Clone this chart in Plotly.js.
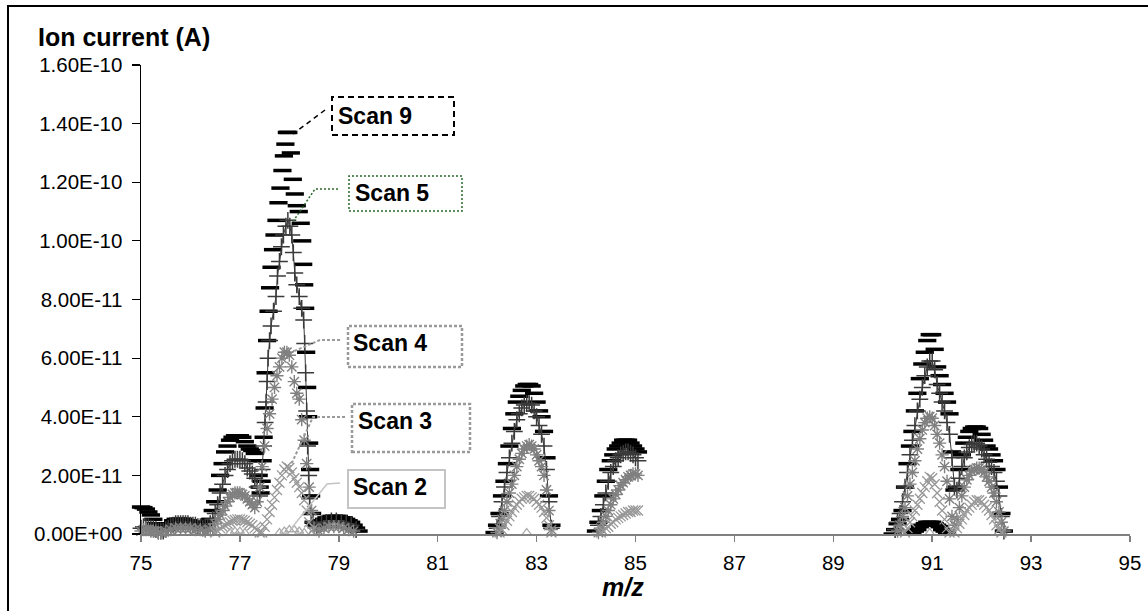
<!DOCTYPE html>
<html><head><meta charset="utf-8">
<script src="https://cdn.plot.ly/plotly-3.0.1.min.js"></script>
<style>
html,body{margin:0;padding:0;background:#fff;overflow:hidden;width:1148px;height:611px}
#wrap{position:relative;width:1148px;height:611px;overflow:hidden}
#chart{position:absolute;left:0;top:0;width:1148px;height:611px}
#frame{position:absolute;left:7px;top:5px;width:1400px;height:800px;border-top:2px solid #000;border-left:2px solid #000;pointer-events:none}
#mask{position:absolute;left:1142px;top:8px;width:6px;height:603px;background:#fff;z-index:10}
</style>
</head><body><div id="wrap"><div id="chart"></div><div id="frame"></div><div id="mask"></div></div>
<script>
// ---------------- data (m/z, ion current in units of 1e-12 A) ----------------
const xTickVals = [75,77,79,81,83,85,87,89,91,93,95];
const yTickVals = [0,2e-11,4e-11,6e-11,8e-11,1e-10,1.2e-10,1.4e-10,1.6e-10];
const yTickText = ["0.00E+00","2.00E-11","4.00E-11","6.00E-11","8.00E-11","1.00E-10","1.20E-10","1.40E-10","1.60E-10"];

const scan9 = [
[75.00,9.2],[75.05,9],[75.10,8.5],[75.15,7.5],[75.20,6.5],[75.25,5],[75.30,3.5],[75.35,2.5],[75.40,2],[75.45,1.5],[75.50,1.5],[75.55,2.5],[75.60,3.5],[75.65,4.5],[75.70,5],[75.75,5],[75.80,5],[75.85,5],[75.90,4.5],[75.95,4.5],[76.00,4],[76.05,4],[76.10,3.5],[76.15,3],[76.20,3],[76.25,2.5],[76.30,3],[76.35,4],
[76.40,5],[76.45,8],[76.50,11],[76.55,15],[76.60,20],[76.65,24],[76.70,28],[76.75,30],[76.80,32],[76.85,33],[76.90,33.5],[76.95,33.5],[77.00,33.5],[77.05,33],[77.10,31.5],[77.15,30],[77.20,29],[77.25,28.5],[77.30,27.5],[77.35,25],
[77.38,20],[77.40,16],[77.42,14],[77.44,18],[77.46,25],[77.48,33],[77.50,43],[77.52,55],[77.55,66],[77.58,76],[77.61,84],[77.64,91],[77.67,97],[77.70,102],[77.74,107],[77.78,113],[77.82,118],[77.86,124],[77.89,129],[77.92,133],[77.95,137],[77.98,137],
[78.03,130],[78.07,121],[78.11,116],[78.15,112],[78.19,110],[78.23,106],[78.26,100],[78.28,92],[78.30,85],[78.32,77],[78.34,62],[78.36,50],[78.38,40],[78.40,31],[78.42,22],[78.44,13],[78.46,7],[78.49,4],
[78.55,3],[78.60,4],[78.65,4.5],[78.70,5],[78.75,5.5],[78.80,5.5],[78.85,6],[78.90,6],[78.95,6],[79.00,6],[79.05,5.5],[79.10,5.5],[79.15,5],[79.20,4.5],[79.25,4],[79.30,3],[79.35,2],[79.40,1],
[82.15,0.5],[82.20,3],[82.25,7],[82.30,13],[82.35,18],[82.40,24],[82.45,30],[82.50,36],[82.55,41],[82.60,45],[82.65,47],[82.70,49],[82.75,50.5],[82.80,51],[82.85,51],[82.90,50.5],[82.95,48],[83.00,45],[83.05,42],[83.10,40],[83.15,35],[83.20,26],[83.25,13],[83.30,3],
[84.20,1],[84.25,4],[84.30,8],[84.35,13],[84.40,18],[84.45,22],[84.50,25],[84.55,27],[84.60,29],[84.65,30],[84.70,31],[84.75,32],[84.80,32],[84.85,32],[84.90,31],[84.95,30],[85.00,29],[85.05,28],
[90.20,0],[90.25,1.5],[90.30,3.5],[90.35,5],[90.40,8],[90.45,16],[90.50,24],[90.55,30],[90.60,35],[90.65,42],[90.70,48],[90.75,53],[90.80,58],[90.85,62],[90.90,66],[90.95,68],[91.00,68],[91.05,63],[91.10,57],[91.15,54],[91.20,51],[91.25,48],[91.30,45],[91.35,41],[91.40,28],[91.45,15],
[91.50,16],[91.55,22],[91.60,27],[91.65,31],[91.70,33],[91.75,35],[91.80,36],[91.85,36.5],[91.90,36.5],[91.95,36],[92.00,34],[92.05,32],[92.10,30],[92.15,29],[92.20,27],[92.25,25],[92.30,22],[92.35,16],[92.40,7],[92.45,1]
];

const scan5 = [
[75.00,2],[75.05,2.5],[75.10,2.5],[75.15,2.5],[75.20,2],[75.25,2],[75.30,1.5],[75.35,1],[75.40,1],[75.45,1],[75.50,1.5],[75.55,2],[75.60,2.5],[75.65,3],[75.70,3.5],[75.75,3.5],[75.80,3.5],[75.85,3.5],[75.90,3.5],[75.95,3.5],[76.00,3],[76.05,3],[76.10,3],[76.15,2.5],[76.20,2.5],[76.25,2],[76.30,2],[76.35,2.5],[76.40,3.5],
[76.45,5],[76.50,7],[76.55,10],[76.60,14],[76.65,17],[76.70,20],[76.75,22],[76.80,24],[76.85,25],[76.90,25.5],[76.95,25.5],[77.00,25.5],[77.05,25],[77.10,24],[77.15,22.5],[77.20,21.5],[77.25,20.5],[77.30,19],[77.35,16],[77.40,13],
[77.45,22],[77.48,30],[77.51,38],[77.53,45],[77.55,52],[77.57,60],[77.60,66],[77.63,71],[77.68,76],[77.73,81],[77.76,88],[77.80,93],[77.84,98],[77.88,102],[77.93,105],[77.97,107],[78.01,105],[78.05,102],[78.08,96],[78.11,89],[78.15,85],[78.20,81],[78.25,77],[78.29,73],[78.31,65],[78.33,55],[78.35,42],[78.37,30],[78.39,20],[78.41,12],[78.44,7],[78.48,4],
[78.55,2.5],[78.65,3.5],[78.75,4],[78.85,4.5],[78.95,4.5],[79.05,4],[79.15,3.5],[79.25,3],[79.35,1.5],[79.45,null],
[82.20,2],[82.25,6],[82.30,11],[82.35,16],[82.40,21],[82.45,26],[82.50,31],[82.55,35],[82.60,39],[82.65,41],[82.70,43],[82.75,44],[82.80,44.5],[82.85,44.5],[82.90,44],[82.95,42],[83.00,40],[83.05,37],[83.10,34],[83.15,30],[83.20,22],[83.25,11],[83.30,2],[83.35,null],
[84.25,3],[84.30,6],[84.35,10],[84.40,14],[84.45,18],[84.50,21],[84.55,23],[84.60,25],[84.65,26],[84.70,27],[84.75,27.5],[84.80,28],[84.85,28],[84.90,27.5],[84.95,27],[85.00,26],[85.05,25],[85.10,null],
[90.25,1.5],[90.30,4],[90.35,7],[90.40,11],[90.45,16],[90.50,21],[90.55,27],[90.60,32],[90.65,37],[90.70,42],[90.75,46],[90.80,50],[90.85,54],[90.90,57],[90.95,59],[91.00,59],[91.05,56],[91.10,51],[91.15,48],[91.20,45],[91.25,42],[91.30,38],[91.35,34],[91.40,26],[91.45,16],
[91.50,15],[91.55,19],[91.60,23],[91.65,26],[91.70,28],[91.75,29.5],[91.80,30.5],[91.85,31],[91.90,31],[91.95,30],[92.00,29],[92.05,27],[92.10,25.5],[92.15,24.5],[92.20,23],[92.25,21],[92.30,18],[92.35,13],[92.40,6],[92.45,1]
];

const scan4 = [
[75.00,1],[75.05,1.5],[75.10,1.5],[75.15,1.5],[75.20,1],[75.25,1],[75.30,1],[75.35,0.5],[75.40,0.5],[75.50,1],[75.60,1.5],[75.70,2],[75.80,2],[75.90,2],[76.00,2],[76.10,1.5],[76.20,1.5],[76.30,1],[76.40,1.5],
[76.45,2],[76.50,3.5],[76.55,5],[76.60,6.5],[76.65,8],[76.70,9.5],[76.75,11],[76.80,12.5],[76.85,13.5],[76.90,14],[76.95,14],[77.00,14],[77.05,13.5],[77.10,13],[77.15,12],[77.20,11],[77.25,10],[77.30,9],[77.35,11],
[77.40,16],[77.45,23],[77.50,30],[77.55,36],[77.60,41],[77.65,46],[77.70,50],[77.75,54],[77.80,57],[77.85,60],[77.90,62],[77.95,62],[78.00,61],[78.05,57],[78.10,52],[78.15,48],[78.20,46],[78.25,39],[78.30,32],[78.35,24],[78.40,16],[78.45,8],[78.50,2],
[78.60,1],[78.70,2],[78.80,2.5],[78.90,2.5],[79.00,2.5],[79.10,2],[79.20,1.5],[79.30,1],
[82.20,0.5],[82.25,2],[82.30,5],[82.35,8],[82.40,11],[82.45,14],[82.50,17],[82.55,20],[82.60,23],[82.65,25.5],[82.70,27.5],[82.75,29],[82.80,30],[82.85,30.5],[82.90,30],[82.95,29],[83.00,27],[83.05,25],[83.10,23],[83.15,20],[83.20,15],[83.25,8],[83.30,1.5],
[84.25,0.5],[84.30,2],[84.35,4],[84.40,6],[84.45,8],[84.50,10],[84.55,12],[84.60,13.5],[84.65,15],[84.70,16.5],[84.75,17.5],[84.80,18.5],[84.85,19.5],[84.90,20],[84.95,20.5],[85.00,20.5],[85.05,20],
[90.30,1],[90.35,3],[90.40,6],[90.45,9],[90.50,13],[90.55,17],[90.60,21],[90.65,25],[90.70,29],[90.75,32.5],[90.80,35.5],[90.85,38],[90.90,39.5],[90.95,40],[91.00,39.5],[91.05,37],[91.10,34],[91.15,31],[91.20,27],[91.25,23],[91.30,18],[91.35,12],[91.40,6],[91.45,3],
[91.50,5],[91.55,9],[91.60,13],[91.65,16],[91.70,18.5],[91.75,20],[91.80,21.5],[91.85,22],[91.90,22.5],[91.95,22.5],[92.00,22],[92.05,21],[92.10,19.5],[92.15,18],[92.20,16],[92.25,14],[92.30,11],[92.35,7.5],[92.40,4],[92.45,1]
];

const scan3 = [
[76.50,0.5],[76.55,1],[76.60,2],[76.65,2.5],[76.70,3],[76.75,3.5],[76.80,4],[76.85,4.5],[76.90,4.8],[76.95,5],[77.00,5],[77.05,4.8],[77.10,4.5],[77.15,4],[77.20,3.5],[77.25,3],[77.30,2],[77.35,1.5],[77.40,0.5],
[77.45,0.5],[77.50,2.5],[77.55,5],[77.60,7.5],[77.65,10],[77.70,12.5],[77.75,15],[77.80,17.5],[77.85,20],[77.90,22],[77.95,23],[78.00,22.5],[78.05,21],[78.10,19],[78.15,17.5],[78.20,16],[78.25,14],[78.30,11.5],[78.35,8],[78.40,4],[78.45,1],
[82.25,0.5],[82.30,1.5],[82.35,3],[82.40,4.5],[82.45,6],[82.50,7.5],[82.55,9],[82.60,10],[82.65,11],[82.70,12],[82.75,12.5],[82.80,13],[82.85,13],[82.90,12.5],[82.95,12],[83.00,11],[83.05,10],[83.10,9],[83.15,7.5],[83.20,5.5],[83.25,3],[83.30,0.5],
[84.30,0.5],[84.35,1],[84.40,2],[84.45,2.5],[84.50,3.5],[84.55,4],[84.60,5],[84.65,5.5],[84.70,6],[84.75,6.5],[84.80,7],[84.85,7.5],[84.90,7.5],[84.95,8],[85.00,8],[85.05,8],
[90.45,0.5],[90.50,2],[90.55,4],[90.60,6],[90.65,8],[90.70,10],[90.75,12],[90.80,14],[90.85,16],[90.90,18],[90.95,19.5],[91.00,19],[91.05,17],[91.10,14],[91.15,11],[91.20,8],[91.25,5],[91.30,2],[91.35,0.5],
[91.45,0.5],[91.50,2],[91.55,3.5],[91.60,5],[91.65,6.5],[91.70,8],[91.75,9],[91.80,10],[91.85,11],[91.90,11.5],[91.95,11.5],[92.00,11],[92.05,10],[92.10,9],[92.15,8],[92.20,6.5],[92.25,5],[92.30,3],[92.35,1.5],[92.40,0.5]
];

const scan2 = [
[76.80,0.5],[76.90,1],[77.00,1],[77.10,0.5],[77.80,0.5],[77.90,1],[78.00,1.5],[78.10,1.5],[78.20,1],[78.30,0.5],[82.80,0.5],[90.95,0.5]
];

const scan1 = [
[90.60,0.5],[90.65,1],[90.70,1.5],[90.75,2.5],[90.80,3],[90.85,3.5],[90.90,4],[90.95,4],[91.00,4],[91.05,3.5],[91.10,3],[91.15,2.5],[91.20,1.5],[91.25,1],[91.30,0.5]
];

const UNIT = 1e-12; // values above are in pA

// ---------------- helpers ----------------
function xy(pairs){
  return {x: pairs.map(p=>p[0]), y: pairs.map(p=> p[1]===null ? null : p[1]*UNIT)};
}
// plot area in pixels
const L=141, T=65, W=989, H=469;
const px = v => (v-L)/W;
const py = v => (T+H-v)/H;

const FONT = 'Arial, "Liberation Sans", sans-serif';

function tr(pairs, name, mode, marker, line){
  const d = xy(pairs);
  const t = {type:'scatter', mode:mode, name:name, x:d.x, y:d.y, marker:marker, cliponaxis:false, hoverinfo:'skip', showlegend:false};
  if(line) t.line = line;
  return t;
}

const traces = [
  tr(scan9,'Scan 9','markers',{symbol:'line-ew',size:13,color:'#000',line:{color:'#000',width:3.5}}),
  tr(scan1,'Scan 1','markers',{symbol:'line-ew',size:13,color:'#000',line:{color:'#000',width:3.5}}),
  tr(scan5,'Scan 5','lines+markers',{symbol:'cross-thin',size:12,color:'#3a3a3a',line:{color:'#3a3a3a',width:1.5}},{color:'#3a3a3a',width:1}),
  tr(scan4,'Scan 4','markers',{symbol:'asterisk',size:11,color:'#808080',line:{color:'#808080',width:1.4}}),
  tr(scan3,'Scan 3','markers',{symbol:'x-thin',size:10,color:'#989898',line:{color:'#989898',width:1.3}}),
  tr(scan2,'Scan 2','markers',{symbol:'triangle-up-open',size:8,color:'#aaaaaa',line:{color:'#aaaaaa',width:1.2}})
];

function box(x0,y0,x1,y1,color,width,dash){
  return {type:'rect',xref:'paper',yref:'paper',x0:px(x0),x1:px(x1),y0:py(y1),y1:py(y0),line:{color:color,width:width,dash:dash},fillcolor:'rgba(0,0,0,0)'};
}
function path(pts,color,width,dash){
  const d = pts.map((p,i)=>(i?'L':'M')+px(p[0])+','+py(p[1])).join(' ');
  return {type:'path',xref:'paper',yref:'paper',path:d,line:{color:color,width:width,dash:dash}};
}
function label(text,x,y){
  return {xref:'paper',yref:'paper',x:px(x),y:py(y),xanchor:'left',yanchor:'middle',showarrow:false,
          text:'<b>'+text+'</b>',font:{family:FONT,size:23,color:'#000'}};
}

const GREEN = '#2a6a2a', GRAY='#9a9a9a', LGRAY='#c4c4c4';

const shapes = [
  // Scan 9
  box(332,97,454,135,'#000',2,'6px,4px'),
  path([[325,110],[293,134]],'#000',1.5,'5px,4px'),
  // Scan 5
  box(349,176,462,211,GREEN,1.5,'2px,2px'),
  path([[338,189],[315,189],[292,223]],GREEN,1.5,'2px,2px'),
  // Scan 4
  box(348,326,462,367,GRAY,2.5,'3px,2px'),
  path([[340,340],[320,340],[292,352]],GRAY,2,'3px,2px'),
  // Scan 3
  box(352,404,470,452,GRAY,2.5,'3px,2px'),
  path([[345,417],[313,417],[290,467]],GRAY,2,'3px,2px'),
  // Scan 2
  box(348,470,445,508,LGRAY,2,'solid'),
  path([[340,483],[327,484],[290,530]],LGRAY,1.5,'solid')
];

const annotations = [
  {xref:'paper',yref:'paper',x:px(36),y:py(37),xanchor:'left',yanchor:'middle',showarrow:false,
   text:'<b>Ion current (A)</b>',font:{family:FONT,size:25,color:'#000'}},
  {xref:'paper',yref:'paper',x:px(623),y:py(587),xanchor:'center',yanchor:'middle',showarrow:false,
   text:'<b><i>m/z</i></b>',font:{family:FONT,size:25,color:'#000'}},
  label('Scan 9',336,116),
  label('Scan 5',353,193),
  label('Scan 4',351,343),
  label('Scan 3',356,421),
  label('Scan 2',351,487)
];

const layout = {
  width:1148, height:611,
  margin:{l:L, r:1148-L-W, t:T, b:611-T-H, pad:0},
  paper_bgcolor:'#fff', plot_bgcolor:'#fff',
  font:{family:FONT,color:'#000'},
  showlegend:false,
  xaxis:{range:[75,95], tickmode:'array', tickvals:xTickVals, ticktext:xTickVals.map(String),
    ticks:'outside', ticklen:6, tickwidth:1.5, tickcolor:'#808080', ticklabelstandoff:3,
    showline:true, linecolor:'#808080', linewidth:2, showgrid:false, zeroline:false,
    tickfont:{family:FONT,size:20.5,color:'#000'}, fixedrange:true},
  yaxis:{range:[0,1.6e-10], tickmode:'array', tickvals:yTickVals, ticktext:yTickText,
    ticks:'outside', ticklen:8, tickwidth:1.2, tickcolor:'#000', ticklabelstandoff:5,
    showline:true, linecolor:'#000', linewidth:1.5, showgrid:false, zeroline:false,
    tickfont:{family:FONT,size:20.5,color:'#000'}, fixedrange:true},
  shapes:shapes, annotations:annotations
};

Plotly.newPlot('chart', traces, layout, {staticPlot:true, displayModeBar:false});
</script>
</body></html>
